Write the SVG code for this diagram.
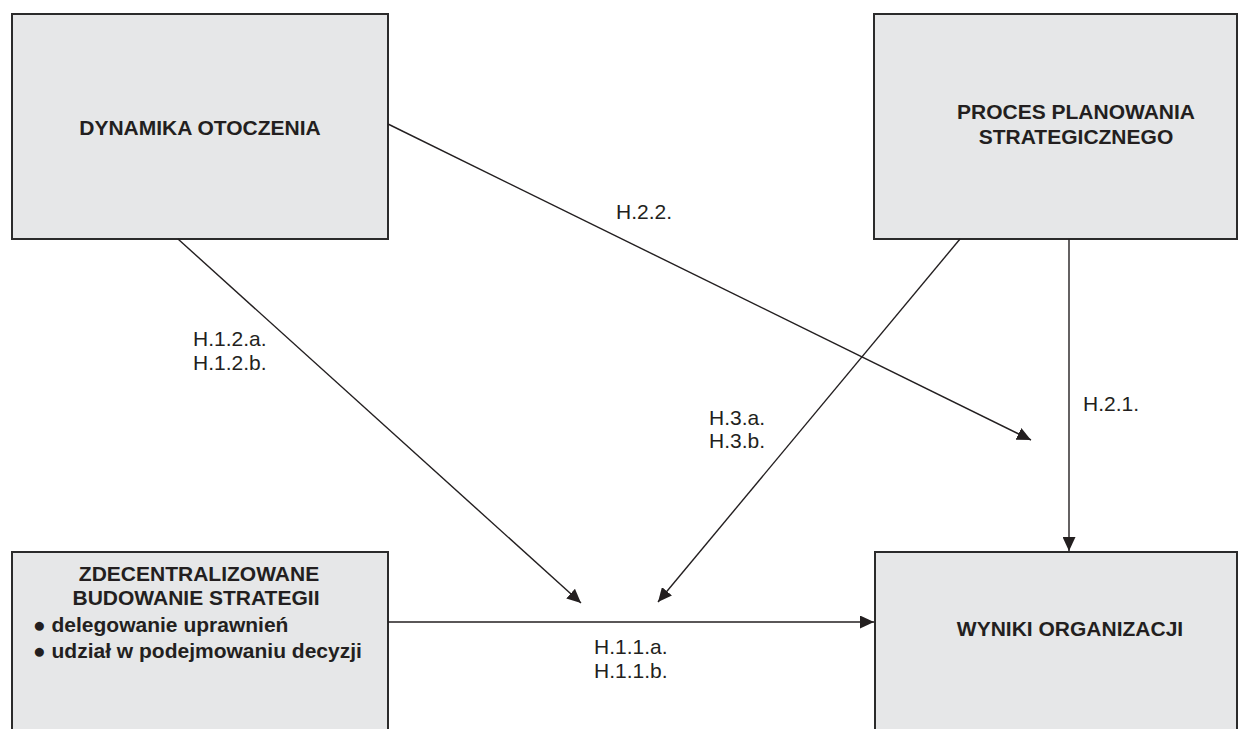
<svg xmlns="http://www.w3.org/2000/svg" width="1239" height="729" viewBox="0 0 1239 729">
  <style>
    .box { fill: #e6e7e8; stroke: #2b2b2b; stroke-width: 2; }
    .title { font-family: "Liberation Sans", Arial, sans-serif; font-weight: bold; font-size: 21px; fill: #231f20; text-anchor: middle; }
    .item { font-family: "Liberation Sans", Arial, sans-serif; font-weight: bold; font-size: 21px; fill: #231f20; }
    .lbl { font-family: "Liberation Sans", Arial, sans-serif; font-size: 21px; fill: #231f20; }
    .conn { stroke: #231f20; stroke-width: 1.4; fill: none; marker-end: url(#arrow); }
  </style>
  <defs>
    <marker id="arrow" markerUnits="userSpaceOnUse" markerWidth="14" markerHeight="13" refX="14" refY="6.5" orient="auto">
      <path d="M0,0 L14,6.5 L0,13 z" fill="#231f20"/>
    </marker>
  </defs>
  <rect width="1239" height="729" fill="#ffffff"/>

  <g id="dynamika-otoczenia">
    <rect class="box" x="12" y="14" width="376" height="225"/>
    <text class="title" x="200" y="135">DYNAMIKA OTOCZENIA</text>
  </g>

  <g id="proces-planowania">
    <rect class="box" x="874" y="14" width="363" height="225"/>
    <text class="title" x="1076" y="119">PROCES PLANOWANIA</text>
    <text class="title" x="1076" y="144">STRATEGICZNEGO</text>
  </g>

  <g id="zdecentralizowane-budowanie">
    <rect class="box" x="12" y="552" width="376" height="190"/>
    <text class="title" x="199" y="581">ZDECENTRALIZOWANE</text>
    <text class="title" x="196" y="605">BUDOWANIE STRATEGII</text>
    <text class="item" x="33" y="632">● delegowanie uprawnień</text>
    <text class="item" x="33" y="658">● udział w podejmowaniu decyzji</text>
  </g>

  <g id="wyniki-organizacji">
    <rect class="box" x="875" y="552" width="362" height="190"/>
    <text class="title" x="1070" y="636">WYNIKI ORGANIZACJI</text>
  </g>

  <g id="connectors">
    <line class="conn" x1="388" y1="124" x2="1031" y2="440"/>
    <line class="conn" x1="178" y1="239" x2="581" y2="603"/>
    <line class="conn" x1="960" y1="239" x2="658" y2="602"/>
    <line class="conn" x1="1069" y1="239" x2="1069" y2="551"/>
    <line class="conn" x1="388" y1="622" x2="874" y2="622"/>
  </g>

  <g id="labels">
    <text class="lbl" x="616" y="219">H.2.2.</text>
    <text class="lbl" x="193" y="346">H.1.2.a.</text>
    <text class="lbl" x="193" y="370">H.1.2.b.</text>
    <text class="lbl" x="709" y="425">H.3.a.</text>
    <text class="lbl" x="709" y="448">H.3.b.</text>
    <text class="lbl" x="1083" y="411">H.2.1.</text>
    <text class="lbl" x="594" y="654">H.1.1.a.</text>
    <text class="lbl" x="594" y="678">H.1.1.b.</text>
  </g>
</svg>
